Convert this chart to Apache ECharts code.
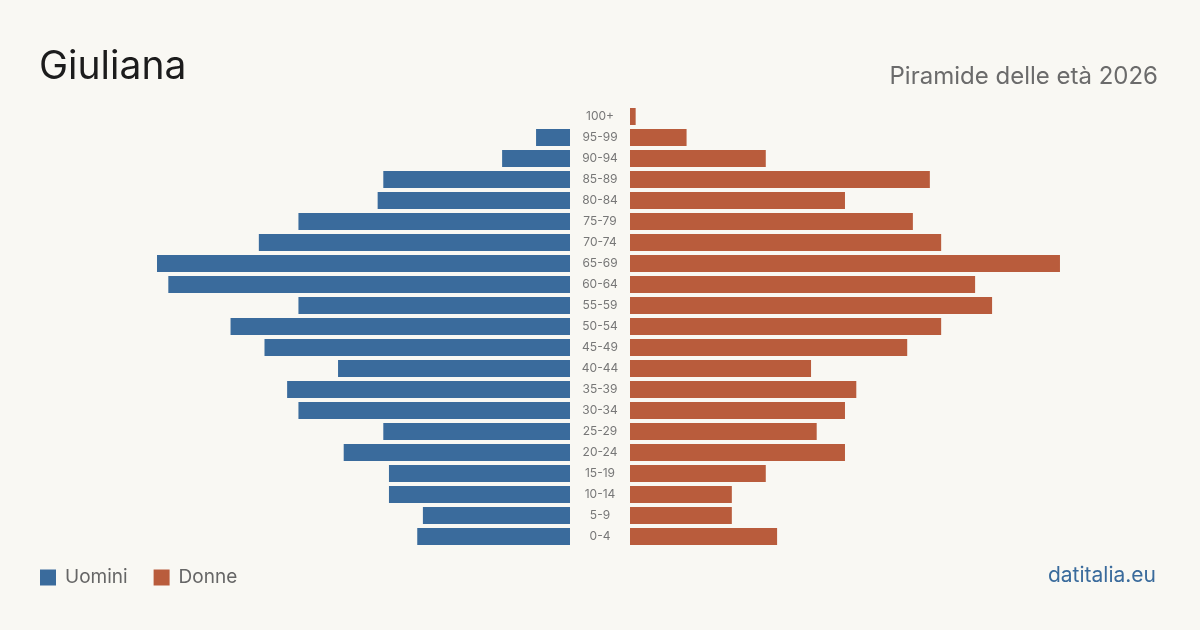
<!DOCTYPE html>
<html>
<head>
<meta charset="utf-8">
<script src="https://cdn.jsdelivr.net/npm/echarts@6/dist/echarts.min.js"></script>
<style>
  html, body { margin: 0; padding: 0; background: #f9f8f3; }
  #chart { width: 1200px; height: 630px; }
</style>
</head>
<body>
<div id="chart"></div>
<script>
// classi di età, dal basso verso l'alto
const ageGroups = ['0-4', '5-9', '10-14', '15-19', '20-24', '25-29', '30-34', '35-39', '40-44',
  '45-49', '50-54', '55-59', '60-64', '65-69', '70-74', '75-79', '80-84', '85-89', '90-94', '95-99', '100+']
const men = [27, 26, 32, 32, 40, 33, 48, 50, 41, 54, 60, 48, 71, 73, 55, 48, 34, 33, 12, 6, 0]
const women = [26, 18, 18, 24, 38, 33, 38, 40, 32, 49, 55, 64, 61, 76, 55, 50, 38, 53, 24, 10, 1]

const BLUE = '#3a6b9c'
const RED = '#b95c3c'
const FONT = 'Inter, "Noto Sans", sans-serif'

const chart = echarts.init(document.getElementById('chart'))

chart.setOption({
  backgroundColor: '#f9f8f3',
  animation: false,
  textStyle: { fontFamily: FONT },
  title: [
    {
      text: 'Giuliana',
      left: 34,
      top: 43,
      textStyle: { fontSize: 39, fontWeight: 400, color: '#1c1c1c', fontFamily: FONT }
    },
    {
      text: 'Piramide delle età 2026',
      right: 37,
      top: 60,
      textStyle: { fontSize: 24, fontWeight: 400, color: '#6b6b6b', fontFamily: FONT }
    },
    {
      text: 'datitalia.eu',
      right: 39,
      top: 560,
      textStyle: { fontSize: 21, fontWeight: 400, color: BLUE, fontFamily: FONT }
    }
  ],
  legend: {
    left: 40,
    top: 568,
    padding: 0,
    icon: 'rect',
    itemWidth: 16,
    itemHeight: 16,
    itemGap: 26,
    textStyle: { fontSize: 19, color: '#666', fontFamily: FONT, padding: [0, 0, 0, 4] },
    data: ['Uomini', 'Donne']
  },
  grid: [
    { left: 117.4, right: 630, top: 106, bottom: 83 },
    { left: 630, right: 117.4, top: 106, bottom: 83 }
  ],
  xAxis: [
    { gridIndex: 0, type: 'value', min: 0, max: 80, inverse: true, show: false },
    { gridIndex: 1, type: 'value', min: 0, max: 80, show: false }
  ],
  yAxis: [
    {
      gridIndex: 0, type: 'category', data: ageGroups, position: 'right',
      axisLine: { show: false }, axisTick: { show: false }, axisLabel: { show: false }
    },
    {
      gridIndex: 1, type: 'category', data: ageGroups,
      axisLine: { show: false }, axisTick: { show: false },
      axisLabel: { margin: 30, align: 'center', fontSize: 12, color: '#777', fontFamily: FONT, padding: [2, 0, 0, 0] }
    }
  ],
  series: [
    {
      name: 'Uomini', type: 'bar', xAxisIndex: 0, yAxisIndex: 0,
      barWidth: 17, itemStyle: { color: BLUE }, data: men
    },
    {
      name: 'Donne', type: 'bar', xAxisIndex: 1, yAxisIndex: 1,
      barWidth: 17, itemStyle: { color: RED }, data: women
    }
  ]
})
</script>
</body>
</html>
